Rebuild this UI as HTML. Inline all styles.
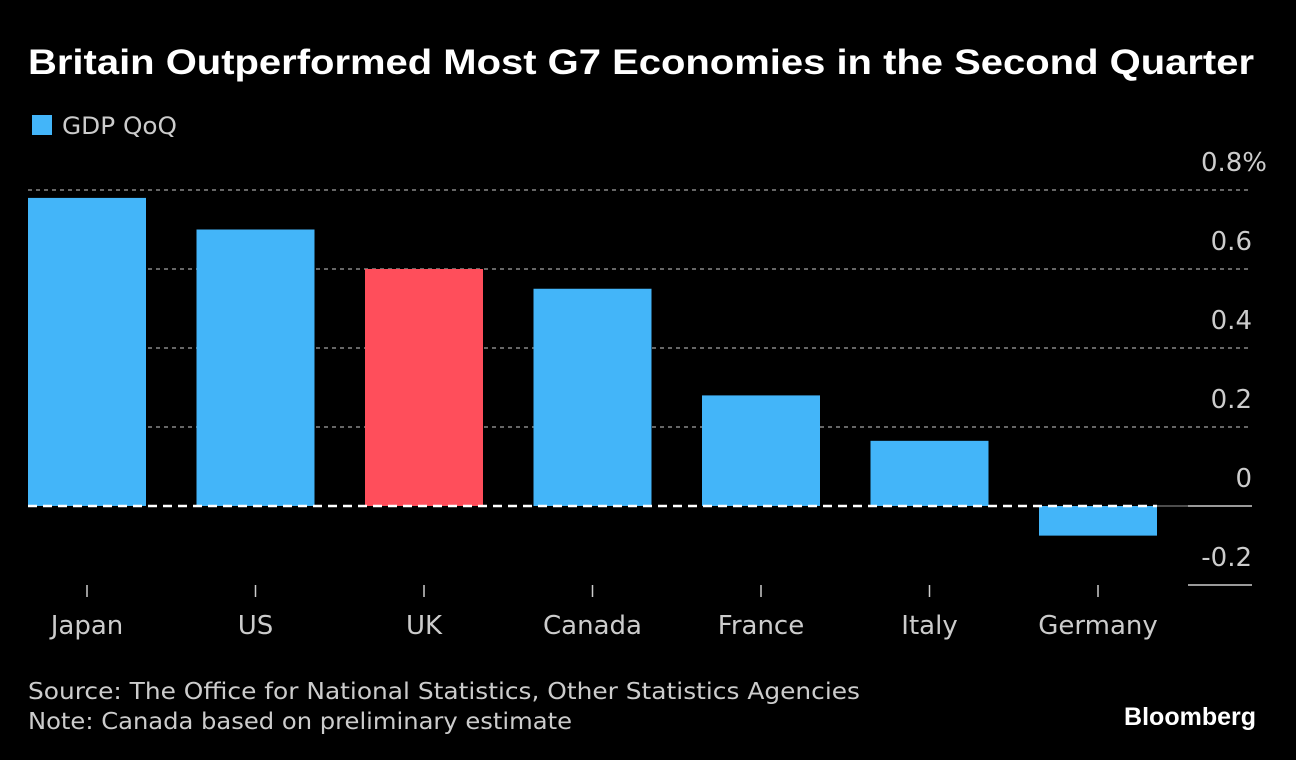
<!DOCTYPE html>
<html><head><meta charset="utf-8">
<style>
html,body{margin:0;padding:0;background:#000;width:1296px;height:760px;overflow:hidden}
body{font-family:"DejaVu Sans","Liberation Sans",sans-serif;color:#fff}
</style></head>
<body>
<svg width="1296" height="760" viewBox="0 0 1296 760" id="chart">
<text x="28" y="74" fill="#fff" font-family="'Liberation Sans',sans-serif" font-weight="bold" font-size="35" textLength="1226" lengthAdjust="spacingAndGlyphs">Britain Outperformed Most G7 Economies in the Second Quarter</text>
<rect x="32" y="115" width="20" height="20" fill="#43b5f9"/>
<text x="62" y="134" fill="#ccc" font-size="24" textLength="115" lengthAdjust="spacingAndGlyphs">GDP QoQ</text>
<g id="grid"></g>
<g id="bars"></g>
<g id="xlabels"></g>
<text x="28" y="699" fill="#ccc" font-size="23" textLength="832" lengthAdjust="spacingAndGlyphs">Source: The Office for National Statistics, Other Statistics Agencies</text>
<text x="28" y="729" fill="#ccc" font-size="23" textLength="544" lengthAdjust="spacingAndGlyphs">Note: Canada based on preliminary estimate</text>
<text x="1256" y="725" text-anchor="end" fill="#fff" font-family="'Liberation Sans',sans-serif" font-weight="bold" font-size="25">Bloomberg</text>
</svg>
<script>
const categories = ["Japan","US","UK","Canada","France","Italy","Germany"];
const values = [0.78, 0.70, 0.60, 0.55, 0.28, 0.165, -0.075];
const highlight = ["UK"];
const ticks = [0.8, 0.6, 0.4, 0.2, 0, -0.2];
const tickLabels = ["0.8%","0.6","0.4","0.2","0","-0.2"];

const NS="http://www.w3.org/2000/svg";
const y0=506, pxPer=395;
function y(v){return y0 - v*pxPer;}
function xc(i){return 87 + i*168.5;}
const bw=118;
function mk(tag,attrs,parent){const e=document.createElementNS(NS,tag);for(const k in attrs)e.setAttribute(k,attrs[k]);parent.appendChild(e);return e;}
const grid=document.getElementById('grid'), bars=document.getElementById('bars'), xl=document.getElementById('xlabels');
ticks.forEach((t,i)=>{
  const yy=y(t);
  let l;
  if(t>0){
    l=mk('line',{x1:28,x2:1252,y1:yy,y2:yy,stroke:'#888','stroke-width':1.5,'stroke-dasharray':'4 4'},grid);
  } else {
    l=mk('line',{x1:1188,x2:1252,y1:yy,y2:yy,stroke:'#ccc','stroke-width':1.5},grid);
  }
  
  
  const lab=tickLabels[i];
  const tx=mk('text',{x:lab.endsWith('%')?1267:1252,y:yy-19,'text-anchor':'end',fill:'#ccc','font-size':26},grid);
  tx.textContent=lab;
  
  
});
const zl=mk('line',{x1:1157,x2:1188,y1:y0,y2:y0,stroke:'#666','stroke-width':1.5},grid);


categories.forEach((c,i)=>{
  const v=values[i];
  const top=Math.min(y(v),y0), h=Math.abs(y(v)-y0);
  const r=mk('rect',{x:xc(i)-bw/2,y:top,width:bw,height:h,fill:highlight.includes(c)?'#ff4e5b':'#43b5f9'},bars);
  
  
  const tk=mk('line',{x1:xc(i),x2:xc(i),y1:585,y2:597,stroke:'#ccc','stroke-width':1.5},xl);
  
  
  const t=mk('text',{x:xc(i),y:634,'text-anchor':'middle',fill:'#ccc','font-size':26},xl);
  t.textContent=c;
  
  
});
const z=mk('line',{x1:28,x2:1157,y1:y0,y2:y0,stroke:'#fff','stroke-width':2.5,'stroke-dasharray':'9 6'},bars);


</script>
</body></html>
